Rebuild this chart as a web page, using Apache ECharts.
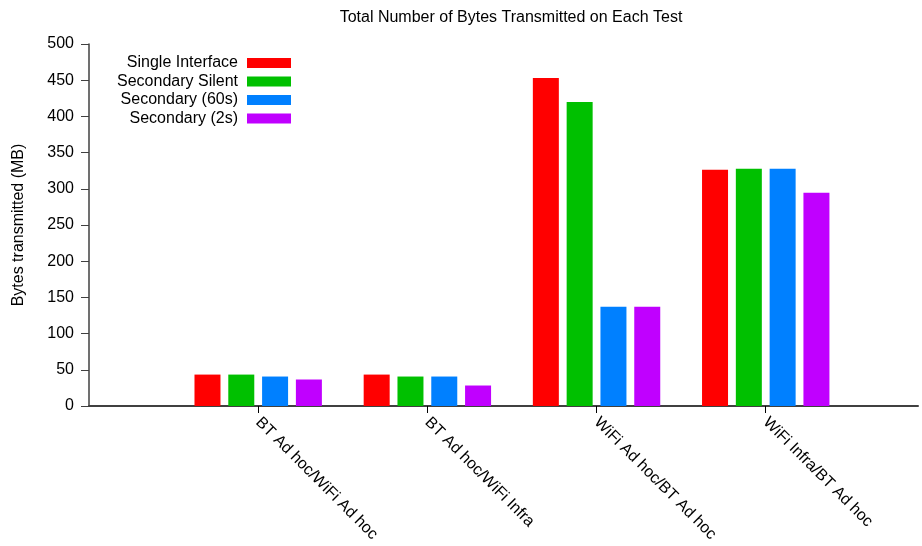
<!DOCTYPE html>
<html>
<head>
<meta charset="utf-8">
<script src="https://cdn.jsdelivr.net/npm/echarts@6/dist/echarts.min.js"></script>
<style>
  html, body { margin: 0; padding: 0; background: #fff; }
  #chart { width: 922px; height: 546px; }
</style>
</head>
<body>
<div id="chart"></div>
<script>
// test names, placed at x = 0, 1, 2, 3
const tests = ['BT Ad hoc/WiFi Ad hoc', 'BT Ad hoc/WiFi Infra', 'WiFi Ad hoc/BT Ad hoc', 'WiFi Infra/BT Ad hoc']
const seriesNames = ['Single Interface', 'Secondary Silent', 'Secondary (60s)', 'Secondary (2s)']
const colors = ['#ff0000', '#00c000', '#0080ff', '#c000ff']

// bytes transmitted (MB)
const singleInterface = [43.4, 43.4, 453, 326.2]
const secondarySilent = [43.4, 40.7, 420, 327.6]
const secondary60s = [40.7, 40.7, 137.2, 327.6]
const secondary2s = [36.6, 28.3, 137.2, 294.5]

const allValues = [singleInterface, secondarySilent, secondary60s, secondary2s]

const chart = echarts.init(document.getElementById('chart'))

const font = 'Liberation Sans, Arial, sans-serif'

let series = allValues.map(function (vals, i) {
  return {
    name: seriesNames[i],
    type: 'bar',
    barWidth: 26,
    barGap: '30%',
    itemStyle: { color: colors[i] },
    data: vals.map(function (v, k) { return [k, v] })
  }
})

let option = {
  animation: false,
  textStyle: { fontFamily: font },
  title: {
    text: 'Total Number of Bytes Transmitted on Each Test',
    left: 506,
    textAlign: 'center',
    top: 5,
    textStyle: { fontFamily: font, fontSize: 16, fontWeight: 'normal', color: '#000' }
  },
  legend: {
    data: seriesNames,
    orient: 'vertical',
    align: 'right',
    right: 626,
    top: 50,
    itemWidth: 44,
    itemHeight: 10,
    itemGap: 2.5,
    icon: 'rect',
    textStyle: { fontFamily: font, fontSize: 16, color: '#000', padding: [0, 4, 0, 0] }
  },
  grid: {
    left: 89,
    right: 4,
    top: 44,
    bottom: 140
  },
  xAxis: {
    type: 'value',
    min: -1,
    max: 3.9,
    interval: 1,
    splitLine: { show: false },
    axisLine: { lineStyle: { color: '#404040', width: 2 } },
    axisTick: {
      customValues: [0, 1, 2, 3],
      length: 7,
      lineStyle: { color: '#000', width: 1 }
    },
    axisLabel: {
      customValues: [0, 1, 2, 3],
      rotate: -45,
      margin: 14,
      fontFamily: font,
      fontSize: 16,
      color: '#000',
      formatter: function (v) { return tests[Math.round(v)] || '' }
    }
  },
  yAxis: {
    type: 'value',
    min: 0,
    max: 500,
    interval: 50,
    name: 'Bytes transmitted (MB)',
    nameLocation: 'middle',
    nameGap: 62,
    nameTextStyle: { fontFamily: font, fontSize: 16, color: '#000' },
    splitLine: { show: false },
    axisLine: { show: true, onZero: false, lineStyle: { color: '#404040', width: 1.5 } },
    axisTick: { show: true, length: 8, lineStyle: { color: '#404040' } },
    axisLabel: { margin: 15, fontFamily: font, fontSize: 16, color: '#000' }
  },
  series: series
}

chart.setOption(option)
</script>
</body>
</html>
